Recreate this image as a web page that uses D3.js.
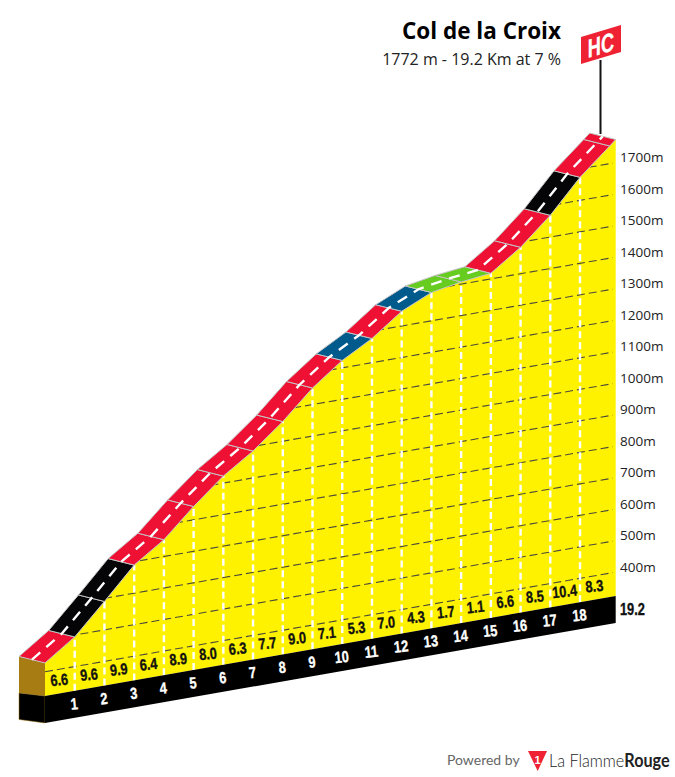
<!DOCTYPE html>
<html>
<head>
<meta charset="utf-8">
<script src="https://cdnjs.cloudflare.com/ajax/libs/d3/7.8.5/d3.min.js"></script>
<style>
    html, body { margin: 0; padding: 0; background: #fff; }
    svg { display: block; }
    text { font-family: "Open Sans", sans-serif; }
    .narrow { font-family: "Liberation Sans", sans-serif; font-weight: bold; stroke-width: 0.35; paint-order: stroke; }
</style>
</head>
<body>
<div id="chart"></div>
<script>
var kms = [0, 1, 2, 3, 4, 5, 6, 7, 8, 9, 10, 11, 12, 13, 14, 15, 16, 17, 18, 19, 19.2];
var elevations = [428, 494, 590, 689, 753, 842, 922, 985, 1062, 1152, 1223, 1276, 1346, 1389, 1406, 1417, 1483, 1568, 1672, 1755, 1772];
var gradients = [6.6, 9.6, 9.9, 6.4, 8.9, 8.0, 6.3, 7.7, 9.0, 7.1, 5.3, 7.0, 4.3, 1.7, 1.1, 6.6, 8.5, 10.4, 8.3, 8.3];
var gradientLabels = ["6.6", "9.6", "9.9", "6.4", "8.9", "8.0", "6.3", "7.7", "9.0", "7.1", "5.3", "7.0", "4.3", "1.7", "1.1", "6.6", "8.5", "10.4", "8.3"];
var kmLabels = [1, 2, 3, 4, 5, 6, 7, 8, 9, 10, 11, 12, 13, 14, 15, 16, 17, 18];
var altitudeTicks = [400, 500, 600, 700, 800, 900, 1000, 1100, 1200, 1300, 1400, 1500, 1600, 1700];
var totalKm = "19.2";

function renderProfile() {
    var width = 675, height = 777,
        baseAltitude = 323,
        roadDx = -26, roadDy = -6.5,
        bandHeight = 27;

    // the picture is sheared: ground rises to the right
    var x = d3.scaleLinear().domain([0, 19.2]).range([45, 615.7]),
        ground = d3.scaleLinear().domain([0, 19.2]).range([696, 596]),
        rise = d3.scaleLinear().domain([baseAltitude, baseAltitude + 100]).range([0, 31.5]),
        colour = d3.scaleThreshold().domain([3, 6, 9.5]).range(["#66cc1f", "#005a8c", "#ee1133", "#050508"]);

    function py(km, alt) { return ground(km) - rise(alt); }

    var line = d3.line().x(function(d) { return d[0]; }).y(function(d) { return d[1]; });
    var profile = kms.map(function(km, i) { return [x(km), py(km, elevations[i])]; });

    var svg = d3.select("#chart").append("svg")
        .attr("width", width)
        .attr("height", height);

    // left block
    svg.append("path")
        .attr("d", line([[19, 656.5], [x(0), profile[0][1]], [x(0), ground(0)], [19, ground(0) - 3]]) + "Z")
        .attr("fill", "#a67c13");
    svg.append("path")
        .attr("d", line([[19, ground(0) - 3], [x(0), ground(0)], [x(0), ground(0) + bandHeight], [19, ground(0) + bandHeight - 3.5]]) + "Z")
        .attr("fill", "#000")
        .attr("stroke", "#a67c13")
        .attr("stroke-width", 0.5);

    // mountain
    var mountain = line(profile.concat([[x(19.2), ground(19.2)], [x(0), ground(0)]])) + "Z";
    svg.append("clipPath").attr("id", "mountainClip").append("path").attr("d", mountain);
    svg.append("path").attr("d", mountain).attr("fill", "#fff200");

    // ground band
    svg.append("path")
        .attr("d", line([[x(0), ground(0)], [x(19.2), ground(19.2)], [x(19.2), ground(19.2) + bandHeight], [x(0), ground(0) + bandHeight]]) + "Z")
        .attr("fill", "#000");

    // altitude lines
    svg.append("g").attr("clip-path", "url(#mountainClip)")
        .selectAll("line")
        .data(altitudeTicks)
        .enter().append("line")
            .attr("x1", x(0))
            .attr("x2", x(19.2) - 3)
            .attr("y1", function(d) { return py(0, d); })
            .attr("y2", function(d) { return py(19.2, d) + 0.9; })
            .attr("stroke", "#4a4a3a")
            .attr("stroke-width", 1.1)
            .attr("stroke-dasharray", "8,4");

    // km lines
    svg.append("g").attr("clip-path", "url(#mountainClip)")
        .selectAll("line")
        .data(kmLabels)
        .enter().append("line")
            .attr("x1", function(d) { return x(d); })
            .attr("x2", function(d) { return x(d); })
            .attr("y1", function(d) { return ground(d); })
            .attr("y2", function(d) { return py(d, elevations[d]); })
            .attr("stroke", "#fff")
            .attr("stroke-width", 2.4)
            .attr("stroke-dasharray", "7,4");

    // road
    var segments = d3.range(kms.length - 1);
    svg.append("g").selectAll("path")
        .data(segments)
        .enter().append("path")
            .attr("d", function(i) {
                var a = profile[i], b = profile[i + 1];
                return line([a, b, [b[0] + roadDx, b[1] + roadDy], [a[0] + roadDx, a[1] + roadDy]]) + "Z";
            })
            .attr("fill", function(i) { return colour(gradients[i]); })
            .attr("stroke", "#c4c4c4")
            .attr("stroke-width", 1)
            .attr("stroke-linejoin", "round");

    svg.append("path")
        .attr("d", line(profile.map(function(p) { return [p[0] + roadDx / 2, p[1] + roadDy / 2]; })))
        .attr("fill", "none")
        .attr("stroke", "#fff")
        .attr("stroke-width", 2.4)
        .attr("stroke-dasharray", "11,8");

    // gradient labels
    svg.append("g").selectAll("text")
        .data(gradientLabels)
        .enter().append("text")
            .attr("class", "narrow")
            .attr("text-anchor", "middle")
            .attr("font-size", 16)
            .attr("fill", "#111")
            .attr("stroke", "#111")
            .attr("transform", function(d, i) {
                return "translate(" + x(i + 0.5) + "," + (ground(i + 0.5) - 8) + ") rotate(-6) scale(0.8,1)";
            })
            .text(function(d) { return d; });

    // km labels
    svg.append("g").selectAll("text")
        .data(kmLabels)
        .enter().append("text")
            .attr("class", "narrow")
            .attr("text-anchor", "middle")
            .attr("font-size", 16)
            .attr("fill", "#fff")
            .attr("stroke", "#fff")
            .attr("transform", function(d) {
                return "translate(" + x(d) + "," + (ground(d) + 18.5) + ") rotate(-6) scale(0.8,1)";
            })
            .text(function(d) { return d; });

    svg.append("text")
        .attr("class", "narrow")
        .attr("text-anchor", "start")
        .attr("font-size", 16)
        .attr("fill", "#111")
        .attr("stroke", "#111")
        .attr("transform", "translate(620,615) scale(0.8,1)")
        .text(totalKm);

    // altitude axis on the right, follows the sheared grid at its right end
    var altitudeAxis = d3.scaleLinear()
        .domain([baseAltitude, baseAltitude + 100])
        .range([py(19.2, baseAltitude) - 5, py(19.2, baseAltitude + 100) - 5]);
    var axis = svg.append("g")
        .attr("transform", "translate(620,0)")
        .call(d3.axisRight(altitudeAxis)
            .tickValues(altitudeTicks)
            .tickSize(0)
            .tickPadding(0)
            .tickFormat(function(d) { return d + "m"; }));
    axis.select(".domain").remove();
    axis.selectAll("text")
        .attr("font-family", "Open Sans")
        .attr("font-size", 13.5)
        .attr("fill", "#222");

    // title
    svg.append("text")
        .attr("x", 561).attr("y", 39)
        .attr("text-anchor", "end")
        .attr("font-size", 22.5)
        .attr("font-weight", "bold")
        .attr("fill", "#000")
        .text("Col de la Croix");
    svg.append("text")
        .attr("x", 561).attr("y", 65)
        .attr("text-anchor", "end")
        .attr("font-size", 16)
        .attr("fill", "#222")
        .text("1772 m - 19.2 Km at 7 %");

    // flag
    svg.append("line")
        .attr("x1", 600.5).attr("x2", 600.5)
        .attr("y1", 60).attr("y2", 134)
        .attr("stroke", "#111")
        .attr("stroke-width", 2);
    svg.append("path")
        .attr("d", line([[581, 37], [621, 25], [621, 52], [581, 64]]) + "Z")
        .attr("fill", "#ee2233");
    svg.append("text")
        .attr("class", "narrow")
        .attr("text-anchor", "middle")
        .attr("font-size", 26)
        .attr("fill", "#fff")
        .attr("stroke", "#fff")
        .attr("transform", "translate(601,54) skewY(-16.7) scale(0.7,1)")
        .text("HC");

    // footer
    svg.append("text")
        .attr("x", 447).attr("y", 765)
        .style("font-family", "Lato")
        .attr("font-size", 14)
        .attr("fill", "#666")
        .text("Powered by");
    svg.append("path")
        .attr("d", line([[528, 751], [547, 751], [537.7, 771]]) + "Z")
        .attr("fill", "#ee2233");
    svg.append("text")
        .attr("class", "narrow")
        .attr("x", 537.5).attr("y", 764)
        .attr("text-anchor", "middle")
        .attr("font-size", 11)
        .attr("fill", "#fff")
        .text("1");
    var brand = svg.append("text")
        .attr("transform", "translate(549,767) scale(0.9,1)")
        .style("font-family", "Lato")
        .attr("font-size", 18)
        .attr("fill", "#222");
    brand.append("tspan").attr("font-weight", 300).text("La Flamme");
    brand.append("tspan").attr("font-weight", "bold").text("Rouge");
}

renderProfile();
</script>
</body>
</html>
